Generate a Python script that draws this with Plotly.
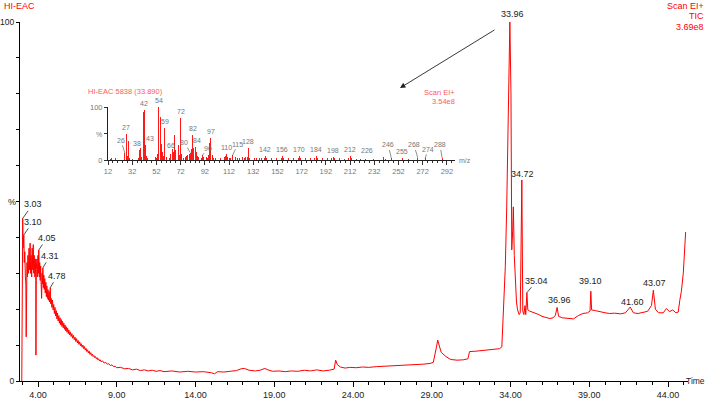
import plotly.graph_objects as go

# ---------------- data: TIC chromatogram (retention time, % intensity) ----------------
rt_front = [2.97, 3.00, 3.03, 3.05, 3.08, 3.10, 3.13, 3.16, 3.20, 3.23, 3.25, 3.28, 3.30, 3.33, 3.36,
            3.40, 3.43, 3.46, 3.50, 3.53, 3.56, 3.60, 3.63, 3.66, 3.70, 3.73, 3.76, 3.80, 3.83, 3.86,
            3.87, 3.89, 3.93, 3.96, 4.00, 4.03, 4.05, 4.08, 4.11, 4.14, 4.17, 4.20, 4.23, 4.26, 4.29,
            4.31, 4.34, 4.37, 4.40, 4.43, 4.46, 4.50, 4.53, 4.56, 4.60, 4.63, 4.66, 4.70, 4.73, 4.76,
            4.78, 4.81, 4.84, 4.88, 4.92, 4.96]
tic_front = [0, 36, 45.3, 37, 39, 40.7, 33, 36, 29, 27, 12.3, 24, 33, 29, 35,
             30, 37, 31, 38.4, 30, 35, 29, 37, 31, 38, 30, 35, 29, 34, 28,
             7.2, 31, 34, 29, 35, 30, 36.5, 29, 33, 28, 32, 27, 23, 30, 27,
             31.5, 26, 29.5, 25.5, 28.5, 24.5, 27.5, 23.5, 26.5, 23, 25.5, 22.5, 25, 22, 24,
             26, 21.5, 23, 20.5, 22.5, 19.8]

rt_decay = [5.00, 5.04, 5.08, 5.12, 5.16, 5.20, 5.24, 5.28, 5.32, 5.36, 5.40, 5.44, 5.48, 5.52, 5.56,
            5.60, 5.64, 5.68, 5.72, 5.76, 5.80, 5.84, 5.88, 5.92, 5.96, 6.00, 6.05, 6.10, 6.15, 6.20,
            6.25, 6.30, 6.35, 6.40, 6.45, 6.50, 6.55, 6.60, 6.65, 6.70, 6.75, 6.80, 6.85, 6.90, 6.95,
            7.00, 7.05, 7.10, 7.15, 7.20, 7.25, 7.30, 7.35, 7.40, 7.45, 7.50, 7.55, 7.60, 7.65, 7.70,
            7.75, 7.80, 7.85, 7.90, 7.95, 8.00, 8.10, 8.20, 8.30, 8.40, 8.50, 8.60, 8.70, 8.80, 8.90, 9.00]
tic_decay = [21.3, 18.8, 20.5, 18.1, 19.6, 17.3, 18.9, 16.7, 18.2, 16.1, 17.6, 15.6, 17.1, 15.2, 16.6,
             14.8, 16.1, 14.4, 15.6, 14.0, 15.1, 13.6, 14.7, 13.2, 14.2, 12.8, 13.7, 12.4, 13.2, 11.9,
             12.7, 11.5, 12.2, 11.0, 11.8, 10.6, 11.3, 10.2, 10.9, 9.8, 10.4, 9.4, 10.0, 9.0, 9.6,
             8.6, 9.1, 8.2, 8.7, 7.8, 8.3, 7.4, 7.9, 7.1, 7.5, 6.8, 7.1, 6.5, 6.8, 6.2,
             6.5, 5.9, 6.2, 5.6, 5.9, 5.4, 5.6, 5.0, 5.2, 4.7, 4.8, 4.3, 4.5, 4.0, 4.1, 3.7]

rt_base = [9.25, 9.5, 9.75, 10.0, 10.25, 10.5, 10.75, 11.0, 11.25, 11.5, 11.75, 12.0, 12.5, 13.0, 13.5,
           14.0, 14.5, 15.0, 15.2, 15.4, 15.8, 16.2, 16.6, 16.9, 17.1, 17.4, 17.8, 18.1, 18.4, 18.6,
           18.9, 19.3, 19.7, 20.1, 20.5, 20.9, 21.3, 21.7, 22.1, 22.5, 22.8, 22.9, 23.0, 23.2, 23.5,
           23.8, 24.2, 24.6, 25.0, 25.5, 26.0, 26.5, 27.0, 27.5, 28.0, 28.5, 28.9, 29.1]
tic_base = [3.8, 3.4, 3.5, 3.1, 3.3, 2.9, 3.1, 2.8, 3.0, 2.7, 2.9, 2.6, 2.8, 2.5, 2.7,
            2.5, 2.6, 2.3, 2.0, 2.6, 2.5, 2.7, 2.9, 3.4, 3.5, 3.0, 2.8, 3.0, 3.5, 3.1,
            2.7, 2.8, 2.6, 2.8, 2.7, 3.0, 2.8, 3.1, 2.8, 3.0, 3.3, 5.8, 4.6, 3.9, 3.6,
            3.8, 3.7, 3.9, 3.8, 4.0, 4.1, 4.2, 4.3, 4.4, 4.5, 4.7, 4.9, 5.2]

rt_main = [29.3, 29.38, 29.5, 29.6, 29.9, 30.2, 30.6, 31.0, 31.3, 31.4, 31.8, 32.2, 32.6, 33.0, 33.3,
           33.45, 33.55, 33.67, 33.76, 33.86, 33.96, 34.03, 34.08, 34.14, 34.18, 34.24, 34.30, 34.38,
           34.45, 34.55, 34.62, 34.72, 34.78, 34.85, 34.92, 34.97, 35.04, 35.10, 35.20, 35.40, 35.60,
           35.80, 36.00, 36.20, 36.50, 36.70, 36.85, 36.96, 37.05, 37.30, 37.60, 38.00, 38.30, 38.60,
           38.90, 39.05, 39.10, 39.15, 39.40, 39.70, 40.00, 40.30, 40.60, 41.00, 41.30, 41.60, 41.80,
           42.10, 42.40, 42.70, 42.95, 43.07, 43.20, 43.40, 43.70, 43.90, 44.10, 44.30, 44.50, 44.65,
           44.75, 44.85, 44.97, 45.05, 45.12]
tic_main = [9.5, 11.4, 9.5, 8.0, 6.8, 6.0, 5.8, 5.9, 6.2, 8.2, 8.3, 8.5, 8.6, 8.8, 9.0,
            9.5, 20, 31.8, 48.5, 74.6, 100, 80, 36.5, 42, 48.5, 35, 28, 22,
            19.8, 18.5, 19, 56, 19.5, 18.5, 21, 18.5, 24.6, 19.8, 19.5, 19.2, 18.8,
            18.5, 18.0, 17.7, 17.4, 17.6, 18.3, 20.5, 18.0, 17.6, 17.4, 17.3, 18.2, 18.8,
            19.0, 19.5, 25, 19.8, 19.6, 19.2, 19.0, 18.8, 18.9, 18.7, 19.0, 20.6, 19.0,
            18.8, 19.0, 19.4, 21, 25.3, 20, 19.0, 19.0, 20.2, 19.3, 19.8, 19.0, 19.2,
            22.5, 25, 30, 38, 41.5]

peak_rt = [3.03, 3.10, 4.05, 4.31, 4.78, 33.96, 34.72, 35.04, 36.96, 39.10, 41.60, 43.07]
peak_tic = [45.3, 40.7, 36.5, 31.5, 26, 100, 56, 24.6, 20.5, 25, 20.6, 25.3]

# ---------------- data: inset mass spectrum (m/z, % abundance) ----------------
ms_mz = [14, 15, 18, 26, 27, 28, 29, 30, 31, 32, 37, 38, 39, 40, 41, 42, 43, 44, 45, 50, 51, 52, 53,
         54, 55, 56, 57, 58, 59, 60, 63, 64, 65, 66, 67, 68, 69, 70, 71, 72, 73, 74, 76, 77, 78, 79,
         80, 81, 82, 83, 84, 85, 86, 87, 89, 90, 91, 93, 94, 95, 96, 97, 98, 99, 101, 105, 107, 108,
         109, 110, 111, 112, 113, 115, 117, 119, 121, 123, 125, 126, 127, 128, 129, 133, 135, 137,
         139, 141, 142, 143, 147, 151, 155, 156, 157, 161, 165, 169, 170, 171, 175, 179, 183, 184,
         185, 189, 193, 197, 198, 199, 203, 207, 211, 212, 213, 217, 221, 225, 226, 231, 240, 241,
         245, 246, 255, 260, 268, 274, 288]
ms_ab = [2, 4, 3, 12.6, 50, 8, 35, 3, 11, 2, 4, 19, 23, 6, 91, 94, 28, 8, 3, 3, 6, 4, 12,
         100, 82, 30, 15, 8, 60, 5, 4, 12, 20, 15, 47, 19, 53, 28, 10, 79, 12, 4, 5, 7, 10, 12,
         14, 20, 47, 22, 25, 15, 8, 5, 4, 9, 6, 5, 4, 10, 33, 41, 10, 4, 3, 3, 4, 5,
         8, 12, 6, 4, 3, 9, 6, 3, 4, 5, 3, 5, 6, 23, 4, 3, 4, 3,
         3, 4, 8, 3, 3, 3, 4, 8, 3, 3, 4, 4, 8, 3, 3, 3, 4, 7,
         3, 3, 3, 3, 6, 3, 3, 2, 4, 7, 3, 2, 2, 2, 5, 2, 5, 2,
         3, 4, 3, 2, 4, 3, 4]
ms_labels = [26, 27, 38, 42, 43, 54, 59, 66, 72, 80, 82, 84, 90, 97, 110, 115, 128, 142, 156, 170,
             184, 198, 212, 226, 246, 255, 268, 274, 288]

# ---------------- figure ----------------
W, H = 709, 399
L, R, T, B = 20, 21, 22, 18
PW, PH = W - L - R, H - T - B
FONT = "Arial, Liberation Sans, sans-serif"


def px(xp):
    return (xp - L) / PW


def py(yp):
    return (H - B - yp) / PH


rt = rt_front + rt_decay + rt_base + rt_main
tic = tic_front + tic_decay + tic_base + tic_main

fig = go.Figure()
fig.add_trace(go.Scatter(x=rt, y=tic, mode="lines", line=dict(color="#ff0000", width=1),
                         hoverinfo="skip", showlegend=False))
fig.add_trace(go.Bar(x=ms_mz, y=ms_ab, xaxis="x2", yaxis="y2", width=0.8,
                     marker=dict(color="#ff1a1a", line=dict(width=0)), showlegend=False,
                     hoverinfo="skip"))

x0 = 4 + (L - 38) / 15.75
x1 = 4 + (W - R - 38) / 15.75

in_x0, in_x1 = 108, 455
in_y0, in_y1 = 160, 107

fig.update_layout(
    width=W, height=H, margin=dict(l=L, r=R, t=T, b=B, autoexpand=False),
    paper_bgcolor="white", plot_bgcolor="rgba(0,0,0,0)",
    font=dict(family=FONT, size=9, color="#000"),
    bargap=0,
    xaxis=dict(domain=[0, 1], range=[x0, x1], showgrid=False, zeroline=False, automargin=False,
               showline=True, linecolor="#000", linewidth=1,
               ticks="outside", ticklen=5, tickcolor="#000", tick0=4, dtick=5,
               tickformat=".2f", tickfont=dict(size=9, color="#222"),
               minor=dict(dtick=1, tick0=4, ticks="outside", ticklen=3, tickcolor="#000", showgrid=False)),
    yaxis=dict(domain=[0, 1], range=[0, 100], showgrid=False, zeroline=False, automargin=False,
               showline=True, linecolor="#000", linewidth=1,
               ticks="outside", ticklen=3, tickcolor="#000",
               tickvals=[0, 10, 20, 30, 40, 50, 60, 70, 80, 90, 100],
               ticktext=["0", "", "", "", "", "", "", "", "", "", "100"],
               tickfont=dict(size=8.5, color="#222")),
    xaxis2=dict(domain=[px(in_x0), px(in_x1)], anchor="y2", range=[12, 298.7], automargin=False,
                showgrid=False, zeroline=False, showline=True, linecolor="#222", linewidth=1,
                ticks="outside", ticklen=4, tickcolor="#333", tick0=12, dtick=20,
                tickfont=dict(size=7.5, color="#777"),
                minor=dict(dtick=4, tick0=12, ticks="outside", ticklen=2, tickcolor="#333", showgrid=False)),
    yaxis2=dict(domain=[py(in_y0), py(in_y1)], anchor="x2", range=[0, 100], automargin=False,
                showgrid=False, zeroline=False, showline=True, linecolor="#222", linewidth=1,
                ticks="outside", ticklen=3, tickcolor="#333",
                tickvals=[0, 50, 100], ticktext=["0", "", "100"],
                tickfont=dict(size=7.5, color="#777")),
)

ann = []
# header texts
ann.append(dict(x=px(2), y=py(6), xref="paper", yref="paper", text="HI-EAC", showarrow=False,
                xanchor="left", yanchor="middle", font=dict(size=9, color="#ff0000")))
for txt, yy in [("Scan EI+", 6), ("TIC", 16), ("3.69e8", 27)]:
    ann.append(dict(x=px(706), y=py(yy), xref="paper", yref="paper", text=txt, showarrow=False,
                    xanchor="right", yanchor="middle", font=dict(size=9, color="#ff0000")))
ann.append(dict(x=px(12), y=py(202), xref="paper", yref="paper", text="%", showarrow=False,
                xanchor="center", yanchor="middle", font=dict(size=9, color="#222")))
ann.append(dict(x=px(707), y=py(381), xref="paper", yref="paper", text="Time", showarrow=False,
                xanchor="right", yanchor="middle", font=dict(size=8.5, color="#222")))

# chromatogram peak labels
lead = {3.03: (10, -14), 3.10: (9, -13), 4.05: (8, -12), 4.31: (7, -12), 4.78: (7, -12),
        35.04: (10, -12)}
shift = {33.96: (3, 8), 34.72: (1, 6), 36.96: (2, 7), 39.10: (0, 10), 41.60: (2, 5), 43.07: (1, 7)}
for t, v in zip(peak_rt, peak_tic):
    label = f"{t:.2f}"
    if t in lead:
        axp, ayp = lead[t]
        ann.append(dict(x=t, y=v, xref="x", yref="y", text=label, showarrow=True, arrowhead=0,
                        arrowwidth=0.8, arrowcolor="#222", ax=axp, ay=ayp,
                        font=dict(size=9, color="#222")))
    else:
        xs, ys = shift[t]
        ann.append(dict(x=t, y=v, xref="x", yref="y", text=label, showarrow=False,
                        xanchor="center", yanchor="middle", xshift=xs, yshift=ys,
                        font=dict(size=9, color="#222")))

# arrow from main peak to inset
ann.append(dict(x=4 + (400 - 38) / 15.75, y=(381 - 88) / 3.59, xref="x", yref="y",
                ax=4 + (496 - 38) / 15.75, ay=(381 - 29) / 3.59, axref="x", ayref="y",
                text="", showarrow=True, arrowhead=2, arrowsize=1.2, arrowwidth=0.9, arrowcolor="#222"))

# inset header
ann.append(dict(x=px(86), y=py(91), xref="paper", yref="paper", text="HI-EAC 5838 (33.890)",
                showarrow=False, xanchor="left", yanchor="middle", font=dict(size=7.5, color="#ff5a5a")))
ann.append(dict(x=px(457), y=py(92), xref="paper", yref="paper", text="Scan EI+",
                showarrow=False, xanchor="right", yanchor="middle", font=dict(size=7.5, color="#ff5a5a")))
ann.append(dict(x=px(457), y=py(101), xref="paper", yref="paper", text="3.54e8",
                showarrow=False, xanchor="right", yanchor="middle", font=dict(size=7.5, color="#ff5a5a")))
ann.append(dict(x=px(104), y=py(134), xref="paper", yref="paper", text="%",
                showarrow=False, xanchor="right", yanchor="middle", font=dict(size=7, color="#777")))
ann.append(dict(x=px(457), y=py(160), xref="paper", yref="paper", text="m/z",
                showarrow=False, xanchor="left", yanchor="middle", font=dict(size=7, color="#777")))

# inset peak labels
ab_of = dict(zip(ms_mz, ms_ab))
ms_lead = {26: (-4, -9), 246: (-3, -9), 268: (-4, -9), 274: (3, -5), 288: (-2, -9), 80: (-6, -6),
           90: (6, -3), 115: (5, -7)}
ms_xs = {38: -2, 43: 4, 66: -2, 84: 2}
for m in ms_labels:
    v = ab_of.get(m, 3)
    if m in ms_lead:
        axp, ayp = ms_lead[m]
        ann.append(dict(x=m, y=v, xref="x2", yref="y2", text=str(m), showarrow=True, arrowhead=0,
                        arrowwidth=0.6, arrowcolor="#444", ax=axp, ay=ayp - 4,
                        font=dict(size=7, color="#777")))
    else:
        ann.append(dict(x=m, y=v, xref="x2", yref="y2", text=str(m), showarrow=False,
                        xanchor="center", yanchor="bottom", yshift=1, xshift=ms_xs.get(m, 0),
                        font=dict(size=7, color="#777")))

fig.update_layout(annotations=ann)
fig.write_html("out.html", config={"displayModeBar": False, "staticPlot": True},
               post_script="document.body.style.margin='0px';document.body.style.overflow='hidden';")
